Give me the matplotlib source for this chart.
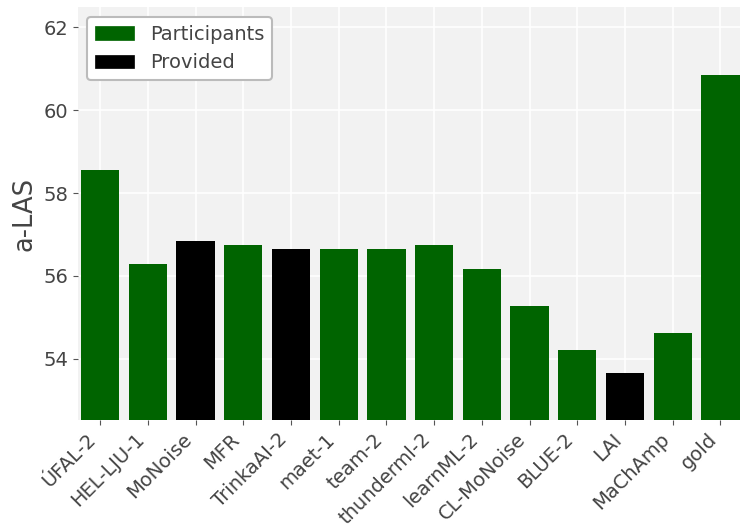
import matplotlib
matplotlib.use("Agg")
import matplotlib.pyplot as plt
from matplotlib.patches import Patch

plt.style.use("ggplot")

systems = ["ÚFAL-2", "HEL-LJU-1", "MoNoise", "MFR", "TrinkaAI-2", "maet-1", "team-2",
           "thunderml-2", "learnML-2", "CL-MoNoise", "BLUE-2", "LAI", "MaChAmp", "gold"]
scores = [58.56, 56.28, 56.84, 56.74, 56.64, 56.64, 56.64,
          56.74, 56.16, 55.27, 54.21, 53.66, 54.62, 60.84]
provided = ["MoNoise", "TrinkaAI-2", "LAI"]
yticks = [54, 56, 58, 60, 62]

green = "#006400"
colors = ["black" if s in provided else green for s in systems]

fig = plt.figure(figsize=(7.4, 5.26), dpi=100)
ax = fig.add_axes([0.105, 0.2015, 0.895, 0.785])
ax.set_facecolor("#F2F2F2")
ax.grid(True, color="white", linewidth=1.2)
ax.set_axisbelow(True)

x = list(range(len(systems)))
ax.bar(x, scores, width=0.8, color=colors)

ax.set_ylim(52.52, 62.49)
ax.set_xlim(-0.47, 13.41)
ax.set_yticks(yticks)
ax.set_xticks(x)
ax.set_xticklabels(systems, rotation=45, ha="right")
ax.tick_params(axis="both", labelsize=14, colors="#555555", labelcolor="#444444")
ax.set_ylabel("a-LAS", fontsize=18.5, color="#444444")
for s in ax.spines.values():
    s.set_visible(False)

handles = [Patch(color=green, label="Participants"), Patch(color="black", label="Provided")]
leg = ax.legend(handles=handles, loc="upper left", fontsize=14, frameon=True,
                facecolor="white", edgecolor="#BBBBBB", framealpha=1)
leg.get_frame().set_linewidth(1.5)
for t in leg.get_texts():
    t.set_color("#444444")

fig.savefig("out.png", dpi=100)
